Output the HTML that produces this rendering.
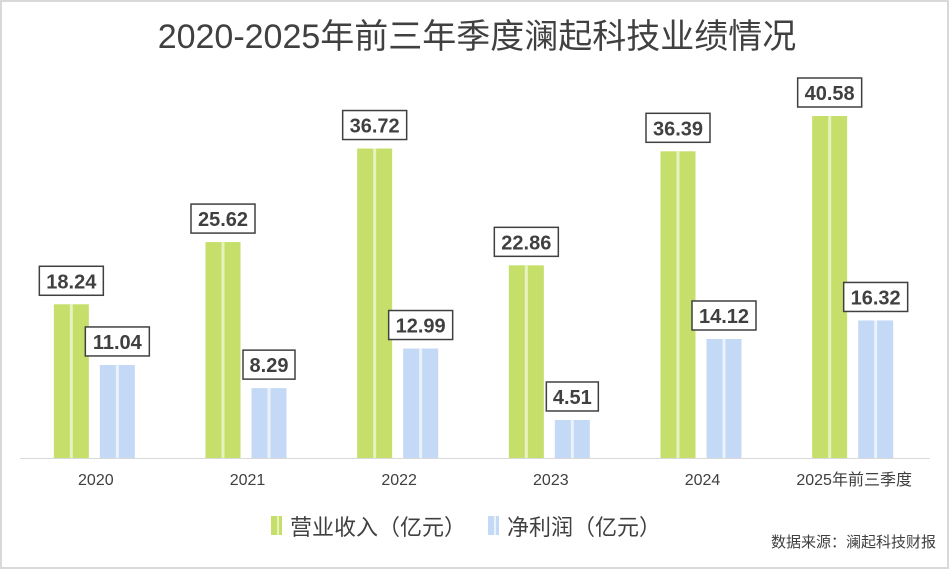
<!DOCTYPE html>
<html><head><meta charset="utf-8"><style>
body{margin:0;background:#fff}
svg text{font-family:"Liberation Sans","Noto Sans CJK SC",sans-serif}
</style></head><body>
<svg id="c" width="950" height="570" xmlns="http://www.w3.org/2000/svg">
<rect x="1" y="1" width="947" height="567" fill="#fff" stroke="#d9d9d9" stroke-width="2"/>
<text x="477" y="48" text-anchor="middle" font-size="34" fill="#404040">2020-2025年前三年季度澜起科技业绩情况</text>
<line x1="20" y1="458.5" x2="930" y2="458.5" stroke="#d9d9d9"/>
<g id="bars"></g>
<g>
<rect x="271" y="516" width="11" height="19" fill="#c5df6a"/>
<rect x="277" y="516" width="2" height="19" fill="#e8f2c0"/>
<text x="290" y="535" font-size="22" fill="#404040">营业收入（亿元）</text>
<rect x="488" y="516" width="11" height="19" fill="#c3d9f5"/>
<rect x="494" y="516" width="2" height="19" fill="#eaf2fc"/>
<text x="507" y="535" font-size="22" fill="#404040">净利润（亿元）</text>
</g>
<text x="936" y="547" text-anchor="end" font-size="15" fill="#404040">数据来源：澜起科技财报</text>
</svg>
<script>
const categories=["2020","2021","2022","2023","2024","2025年前三季度"];
const revenue=[18.24,25.62,36.72,22.86,36.39,40.58];
const profit=[11.04,8.29,12.99,4.51,14.12,16.32];
const labelsRev=["18.24","25.62","36.72","22.86","36.39","40.58"];
const labelsProf=["11.04","8.29","12.99","4.51","14.12","16.32"];
const NS="http://www.w3.org/2000/svg";
const g=document.getElementById('bars');
const x0=20,x1=930,base=458,scale=342/40.58;
const band=(x1-x0)/categories.length;
function y(v){return base-v*scale;}
function mk(t,a){const e=document.createElementNS(NS,t);for(const k in a)e.setAttribute(k,a[k]);g.appendChild(e);return e;}
function bar(cx,v,col,stripe,lab,name){
  const w=35,top=y(v);
  const r=mk('rect',{x:cx-w/2,y:top,width:w,height:base-top,fill:col});
  
  
  mk('rect',{x:cx-1.5,y:top,width:3,height:base-top,fill:stripe});
  const bw=lab.length>4?64:52;
  const b=mk('rect',{x:cx-bw/2,y:top-38,width:bw,height:29,fill:'#fff',stroke:'#404040','stroke-width':1.5});
  
  
  const t=mk('text',{x:cx,y:top-16,'text-anchor':'middle','font-size':20,'font-weight':'bold',fill:'#404040'});
  t.textContent=lab;
  
  
}
categories.forEach((c,i)=>{
  const cx=x0+band*(i+0.5);
  bar(cx-24.5,revenue[i],'#c5df6a','#e8f2c0',labelsRev[i],'bar-revenue-'+i);
  bar(cx+21.5,profit[i],'#c3d9f5','#eaf2fc',labelsProf[i],'bar-profit-'+i);
  const t=mk('text',{x:cx,y:485,'text-anchor':'middle','font-size':16,fill:'#404040'});
  t.textContent=c;
  
  
});
</script>
</body></html>
